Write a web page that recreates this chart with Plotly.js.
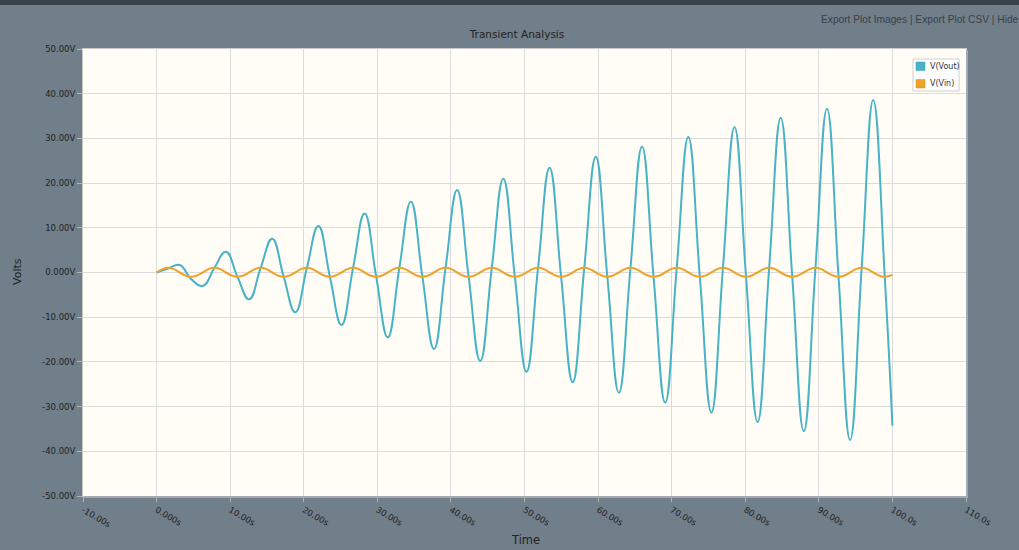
<!DOCTYPE html>
<html>
<head>
<meta charset="utf-8">
<script src="https://cdn.plot.ly/plotly-3.0.1.min.js"></script>
<style>
  html, body { margin: 0; padding: 0; background: #ffffff; }
  #wrap { position: absolute; left: 0; top: 0; width: 1019px; height: 550px; overflow: hidden; background: #717f8a; }
  #topbar { position: absolute; left: 0; top: 0; width: 1019px; height: 5px; background: #3b414a; z-index: 5; }
  #chart { position: absolute; left: 0; top: 0; width: 1019px; height: 550px; }
</style>
</head>
<body>
<div id="wrap">
  <div id="topbar"></div>
  <div id="chart"></div>
</div>
<script>
// ---- Data (time in s, voltages in V) ----
const voutTime = [
  0, 1.57, 3.14, 4.71, 6.28, 7.85, 9.42, 11.0, 12.57, 14.14,
  15.71, 17.28, 18.85, 20.42, 21.99, 23.56, 25.13, 26.70, 28.27, 29.85,
  31.42, 32.99, 34.56, 36.13, 37.70, 39.27, 40.84, 42.41, 43.98, 45.55,
  47.12, 48.69, 50.27, 51.84, 53.41, 54.98, 56.55, 58.12, 59.69, 61.26,
  62.83, 64.40, 65.97, 67.54, 69.12, 70.69, 72.26, 73.83, 75.40, 76.97,
  78.54, 80.11, 81.68, 83.25, 84.82, 86.39, 87.96, 89.54, 91.11, 92.68,
  94.25, 95.82, 97.39, 98.96, 100
];
const vout = [
  0, 0.9, 1.68, -1.5, -3.0, 1, 4.65, -1, -6.0, 1,
  7.57, -1, -8.9, 1, 10.4, -1, -11.75, 1, 13.2, -1,
  -14.5, 1, 15.85, -1, -17.1, 1, 18.45, -1, -19.8, 1,
  21.0, -1, -22.2, 1, 23.45, -1, -24.55, 1, 25.9, -1,
  -26.9, 1, 28.15, -1, -29.1, 1, 30.3, -1, -31.35, 1,
  32.5, -1, -33.45, 1, 34.55, -1, -35.5, 1, 36.65, -1,
  -37.45, 1, 38.6, -1, -34.3
];
const vinTime = [
  0.00, 0.79, 1.57, 2.36, 3.14, 3.93, 4.71, 5.50,
  6.28, 7.07, 7.85, 8.64, 9.42, 10.21, 11.00, 11.78,
  12.57, 13.35, 14.14, 14.92, 15.71, 16.49, 17.28, 18.06,
  18.85, 19.63, 20.42, 21.21, 21.99, 22.78, 23.56, 24.35,
  25.13, 25.92, 26.70, 27.49, 28.27, 29.06, 29.85, 30.63,
  31.42, 32.20, 32.99, 33.77, 34.56, 35.34, 36.13, 36.91,
  37.70, 38.48, 39.27, 40.06, 40.84, 41.63, 42.41, 43.20,
  43.98, 44.77, 45.55, 46.34, 47.12, 47.91, 48.69, 49.48,
  50.27, 51.05, 51.84, 52.62, 53.41, 54.19, 54.98, 55.76,
  56.55, 57.33, 58.12, 58.90, 59.69, 60.48, 61.26, 62.05,
  62.83, 63.62, 64.40, 65.19, 65.97, 66.76, 67.54, 68.33,
  69.12, 69.90, 70.69, 71.47, 72.26, 73.04, 73.83, 74.61,
  75.40, 76.18, 76.97, 77.75, 78.54, 79.33, 80.11, 80.90,
  81.68, 82.47, 83.25, 84.04, 84.82, 85.61, 86.39, 87.18,
  87.96, 88.75, 89.54, 90.32, 91.11, 91.89, 92.68, 93.46,
  94.25, 95.03, 95.82, 96.60, 97.39, 98.17, 98.96, 99.75, 100
];
const vin = [
  0, 0.74, 1.05, 0.74, 0, -0.67, -0.95, -0.67,
  0, 0.74, 1.05, 0.74, 0, -0.67, -0.95, -0.67,
  0, 0.74, 1.05, 0.74, 0, -0.67, -0.95, -0.67,
  0, 0.74, 1.05, 0.74, 0, -0.67, -0.95, -0.67,
  0, 0.74, 1.05, 0.74, 0, -0.67, -0.95, -0.67,
  0, 0.74, 1.05, 0.74, 0, -0.67, -0.95, -0.67,
  0, 0.74, 1.05, 0.74, 0, -0.67, -0.95, -0.67,
  0, 0.74, 1.05, 0.74, 0, -0.67, -0.95, -0.67,
  0, 0.74, 1.05, 0.74, 0, -0.67, -0.95, -0.67,
  0, 0.74, 1.05, 0.74, 0, -0.67, -0.95, -0.67,
  0, 0.74, 1.05, 0.74, 0, -0.67, -0.95, -0.67,
  0, 0.74, 1.05, 0.74, 0, -0.67, -0.95, -0.67,
  0, 0.74, 1.05, 0.74, 0, -0.67, -0.95, -0.67,
  0, 0.74, 1.05, 0.74, 0, -0.67, -0.95, -0.67,
  0, 0.74, 1.05, 0.74, 0, -0.67, -0.95, -0.67,
  0, 0.74, 1.05, 0.74, 0, -0.67, -0.95, -0.67, -0.48
];
const seriesNames = ["V(Vout)", "V(Vin)"];
const seriesColors = ["#48b3c7", "#f0a229"];

const xTickVals = [-10, 0, 10, 20, 30, 40, 50, 60, 70, 80, 90, 100, 110];
const xTickText = ["-10.00s", "0.000s", "10.00s", "20.00s", "30.00s", "40.00s", "50.00s", "60.00s", "70.00s", "80.00s", "90.00s", "100.0s", "110.0s"];
const yTickVals = [50, 40, 30, 20, 10, 0, -10, -20, -30, -40, -50];
const yTickText = ["50.00V", "40.00V", "30.00V", "20.00V", "10.00V", "0.000V", "-10.00V", "-20.00V", "-30.00V", "-40.00V", "-50.00V"];

// ---- Layout geometry (pixels) ----
const W = 1019, H = 550;
const L = 83, R = 53, T = 49, B = 54;
const PW = W - L - R, PH = H - T - B;
const px = x => (x - L) / PW;
const py = y => (H - B - y) / PH;

const traces = [
  { x: voutTime, y: vout, mode: "lines", name: seriesNames[0],
    line: { color: seriesColors[0], width: 2, shape: "spline", smoothing: 1.3 }, showlegend: false },
  { x: vinTime, y: vin, mode: "lines", name: seriesNames[1],
    line: { color: seriesColors[1], width: 2, shape: "spline", smoothing: 1 }, showlegend: false }
];

const tickFont = { family: "DejaVu Sans, Verdana, sans-serif", size: 8.5, color: "#222" };

const shapes = [
  // plot-area shadow on right and bottom
  { type: "line", xref: "paper", yref: "paper", x0: px(W - R + 1), x1: px(W - R + 1), y0: py(T + 1), y1: py(H - B + 1),
    line: { color: "#a3a9ae", width: 2 } },
  { type: "line", xref: "paper", yref: "paper", x0: px(L + 1), x1: px(W - R + 2), y0: py(H - B + 1), y1: py(H - B + 1),
    line: { color: "#a3a9ae", width: 2 } },
  // legend box
  { type: "rect", xref: "paper", yref: "paper", x0: px(913), x1: px(959), y0: py(59), y1: py(91),
    fillcolor: "#ffffff", line: { color: "#cfcfcf", width: 1 } },
  { type: "rect", xref: "paper", yref: "paper", x0: px(916), x1: px(925), y0: py(62), y1: py(70.5),
    fillcolor: seriesColors[0], line: { color: "#3f9fb2", width: 0.5 } },
  { type: "rect", xref: "paper", yref: "paper", x0: px(916), x1: px(925), y0: py(79.5), y1: py(88),
    fillcolor: seriesColors[1], line: { color: "#d98f1d", width: 0.5 } }
];

const legendFont = { family: "DejaVu Sans, Verdana, sans-serif", size: 8, color: "#333" };

const annotations = [
  { text: seriesNames[0], xref: "paper", yref: "paper", x: px(928), y: py(66.5), xanchor: "left", yanchor: "middle",
    showarrow: false, font: legendFont },
  { text: seriesNames[1], xref: "paper", yref: "paper", x: px(928), y: py(84), xanchor: "left", yanchor: "middle",
    showarrow: false, font: legendFont },
  { text: "Export Plot Images | Export Plot CSV | Hide", xref: "paper", yref: "paper", x: px(819), y: py(19.5),
    xanchor: "left", yanchor: "middle", showarrow: false,
    font: { family: "Liberation Sans, Arial, sans-serif", size: 10.2, color: "#3a3f47" } },
  { text: "Volts", xref: "paper", yref: "paper", x: px(17), y: py(272), xanchor: "center", yanchor: "middle",
    textangle: -90, showarrow: false, font: { family: "DejaVu Sans, Verdana, sans-serif", size: 11, color: "#222" } },
  { text: "Time", xref: "paper", yref: "paper", x: px(525), y: py(540), xanchor: "center", yanchor: "middle",
    showarrow: false, font: { family: "DejaVu Sans, Verdana, sans-serif", size: 11.5, color: "#222" } }
];

const layout = {
  width: W, height: H,
  margin: { l: L, r: R, t: T, b: B, pad: 0 },
  paper_bgcolor: "rgba(0,0,0,0)",
  plot_bgcolor: "#fffdf6",
  title: { text: "Transient Analysis", x: 517 / W, xanchor: "center", y: 1 - 34 / H, yanchor: "middle",
    font: { family: "DejaVu Sans, Verdana, sans-serif", size: 10.5, color: "#222" } },
  showlegend: false,
  xaxis: {
    range: [-10, 110], tickmode: "array", tickvals: xTickVals, ticktext: xTickText, tickangle: 30,
    showgrid: true, gridcolor: "#dcdcdc", gridwidth: 1, zeroline: false,
    showline: true, linecolor: "#c8c8c8", linewidth: 1, mirror: true,
    ticks: "outside", ticklen: 5, tickcolor: "#b5b5b5", tickfont: tickFont, fixedrange: true
  },
  yaxis: {
    range: [-50, 50], tickmode: "array", tickvals: yTickVals, ticktext: yTickText,
    showgrid: true, gridcolor: "#dcdcdc", gridwidth: 1, zeroline: false,
    showline: true, linecolor: "#c8c8c8", linewidth: 1, mirror: true,
    ticks: "outside", ticklen: 5, tickcolor: "#b5b5b5", tickfont: tickFont, fixedrange: true
  },
  shapes: shapes,
  annotations: annotations
};

Plotly.newPlot("chart", traces, layout, { displayModeBar: false, staticPlot: true });
</script>
</body>
</html>
